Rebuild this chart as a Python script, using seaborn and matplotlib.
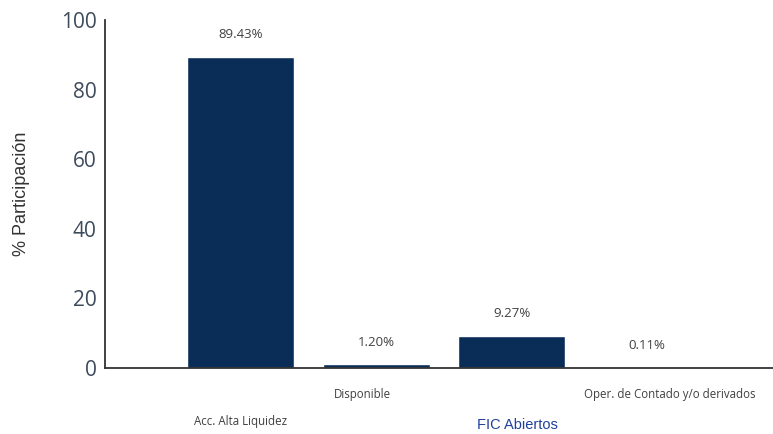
import matplotlib
matplotlib.use("Agg")
import matplotlib.pyplot as plt
import matplotlib.transforms as mtransforms
import seaborn as sns
import pandas as pd

categories = ["Acc. Alta Liquidez", "Disponible", "FIC Abiertos", "Oper. de Contado y/o derivados"]
values = [89.43, 1.20, 9.27, 0.11]
value_labels = ["89.43%", "1.20%", "9.27%", "0.11%"]
y_ticks = [0, 20, 40, 60, 80, 100]
y_label = "% Participación"

sns.set_style("white")
plt.rcParams["font.family"] = ["Open Sans", "DejaVu Sans"]

df = pd.DataFrame({"cat": categories, "val": values})

fig = plt.figure(figsize=(7.73, 4.34), dpi=100)
ax = fig.add_axes([0.136, 0.152, 0.864, 0.802])

sns.barplot(data=df, x="cat", y="val", color="#0a2d58", width=0.79, ax=ax, saturation=1)

ax.set_ylim(0, 100)
ax.set_xlim(-1.0, 3.93)
ax.set_yticks(y_ticks)
ax.set_yticklabels([str(t) for t in y_ticks], fontsize=15, color="#3d4b5c")
ax.tick_params(axis="y", length=0, pad=6)
ax.set_xticks([])
ax.set_xlabel("")
ax.set_ylabel(y_label, fontsize=13, color="#333333", family=["Liberation Sans", "DejaVu Sans"], labelpad=22)

for s in ["top", "right"]:
    ax.spines[s].set_visible(False)
for s in ["left", "bottom"]:
    ax.spines[s].set_color("#333333")
    ax.spines[s].set_linewidth(1.3)

ax.bar_label(ax.containers[0], labels=value_labels, padding=11, fontsize=9.5, color="#404040")

trans = mtransforms.blended_transform_factory(ax.transData, fig.transFigure)
label_y = [0.028, 0.09, 0.02, 0.09]
label_dx = [0.0, -0.10, 0.04, 0.17]
for i, (c, yy, dx) in enumerate(zip(categories, label_y, label_dx)):
    if c == "FIC Abiertos":
        ax.text(i + dx, yy, c, transform=trans, ha="center", va="center", fontsize=10.5,
                color="#1f3f9a", family=["Liberation Sans", "DejaVu Sans"], clip_on=False)
    else:
        ax.text(i + dx, yy, c, transform=trans, ha="center", va="center", fontsize=8.3,
                color="#404040", clip_on=False)

fig.savefig("out.png", dpi=100)
